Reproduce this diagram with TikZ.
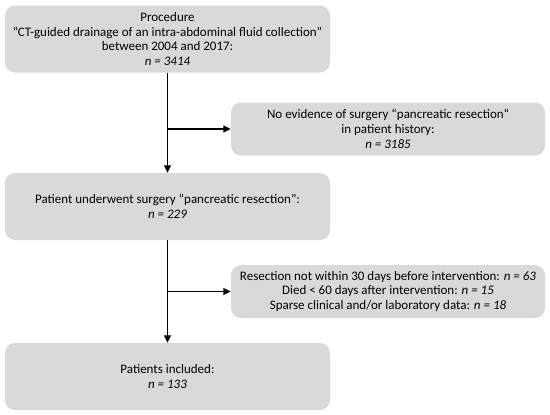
\documentclass[tikz,border=0pt]{standalone}
\usepackage{fontspec}
\setmainfont{Carlito}
\usepackage{tikz}
\usetikzlibrary{arrows.meta,calc}

\begin{document}
\begin{tikzpicture}[x=1pt,y=-1pt,
    box/.style={fill=black!15,rounded corners=10pt,align=center,
        font=\fontsize{13}{14.8}\selectfont,inner sep=0pt},
    mainbox/.style={box,minimum width=325pt,minimum height=67pt},
    sidebox/.style={box,minimum width=314pt,minimum height=53pt},
    flow/.style={line width=1.3pt,-{Triangle[width=7pt,length=7.5pt]}}]
    \useasboundingbox (0,0) rectangle (550,415);
    \node[mainbox] (proc) at (167.5,39)
        {Procedure\\"CT-guided drainage of an intra-abdominal fluid collection”\\between 2004 and 2017:\\\textit{n = 3414}};
    \node[sidebox] (nores) at (388,129)
        {No evidence of surgery “pancreatic resection“\\in patient history:\\\textit{n = 3185}};
    \node[mainbox] (resec) at (167.5,206.5)
        {\raisebox{-4pt}{\parbox{320pt}{\centering Patient underwent surgery “pancreatic resection":\\\textit{n = 229}}}};
    \node[sidebox] (excl) at (388,291.5)
        {Resection not within 30 days before intervention: \textit{n = 63}\\Died < 60 days after intervention: \textit{n = 15}\\Sparse clinical and/or laboratory data: \textit{n = 18}};
    \node[mainbox] (incl) at (167.5,376.5)
        {\raisebox{-4pt}{\parbox{320pt}{\centering Patients included:\\\textit{n = 133}}}};
    \coordinate (b1) at (proc.south |- nores.west);
    \coordinate (b2) at (resec.south |- excl.west);
    \draw[flow] (proc.south) -- (resec.north);
    \draw[flow] (resec.south) -- (incl.north);
    \draw[flow] (b1) -- (nores.west);
    \draw[flow] (b2) -- (excl.west);
\end{tikzpicture}
\end{document}
